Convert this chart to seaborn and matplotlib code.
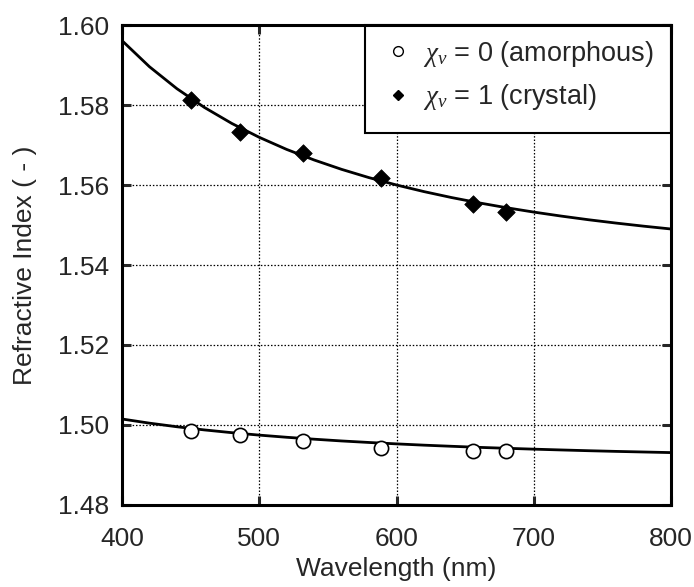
import matplotlib
matplotlib.use("Agg")
import matplotlib.pyplot as plt
from matplotlib.lines import Line2D
from matplotlib.patches import Rectangle
import seaborn as sns
import pandas as pd

# Measured refractive index at discrete wavelengths (nm)
wl_points = [450, 486, 532, 589, 656, 680]
n_amorphous = [1.4986, 1.4976, 1.4959, 1.4943, 1.4936, 1.4936]
n_crystal = [1.5813, 1.5732, 1.5679, 1.5617, 1.5553, 1.5533]

# Dispersion fit curves sampled across the range
wl_curve = [400, 420, 440, 460, 480, 500, 520, 540, 560, 580, 600,
            620, 640, 660, 680, 700, 720, 740, 760, 780, 800]
fit_amorphous = [1.5015, 1.50046, 1.49956, 1.49877, 1.49808, 1.49747, 1.49693,
                 1.49645, 1.49601, 1.49563, 1.49528, 1.49496, 1.49468, 1.49441,
                 1.49418, 1.49396, 1.49376, 1.49357, 1.49340, 1.49325, 1.49310]
fit_crystal = [1.59610, 1.58957, 1.58408, 1.57940, 1.57539, 1.57192, 1.56889,
               1.56625, 1.56391, 1.56184, 1.56000, 1.55835, 1.55687, 1.55554,
               1.55433, 1.55323, 1.55223, 1.55131, 1.55048, 1.54971, 1.54900]

x_ticks = [400, 500, 600, 700, 800]
y_ticks = [1.48, 1.50, 1.52, 1.54, 1.56, 1.58, 1.60]
labels = [r"$\chi_v$ = 0 (amorphous)", r"$\chi_v$ = 1 (crystal)"]

sns.set_style("white")
plt.rcParams["font.family"] = ["Liberation Sans", "DejaVu Sans"]
plt.rcParams["mathtext.fontset"] = "custom"
plt.rcParams["mathtext.it"] = "Liberation Serif:italic"
plt.rcParams["mathtext.rm"] = "Liberation Sans"

fs = 19
fig = plt.figure(figsize=(6.94, 5.87), dpi=100)
ax = fig.add_axes([0.1758, 0.1397, 0.7911, 0.8177])

curves = pd.DataFrame({"wl": wl_curve + wl_curve,
                       "n": fit_amorphous + fit_crystal,
                       "phase": ["a"] * len(wl_curve) + ["c"] * len(wl_curve)})
sns.lineplot(data=curves, x="wl", y="n", units="phase", estimator=None,
             color="black", linewidth=2, ax=ax, zorder=3, legend=False)

sns.scatterplot(x=wl_points, y=n_amorphous, marker="o", s=105,
                facecolor="white", edgecolor="black", linewidth=1.2,
                ax=ax, zorder=4, legend=False)
sns.scatterplot(x=wl_points, y=n_crystal, marker="D", s=80,
                color="black", edgecolor="black", linewidth=0.5,
                ax=ax, zorder=4, legend=False)

ax.set_xlim(400, 800)
ax.set_ylim(1.48, 1.60)
ax.set_xticks(x_ticks)
ax.set_yticks(y_ticks)
ax.set_xticklabels([str(v) for v in x_ticks])
ax.set_yticklabels([f"{v:.2f}" for v in y_ticks])
ax.grid(True, color="black", linestyle=(0, (1.2, 1.5)), linewidth=0.9)
ax.tick_params(direction="in", length=6.5, width=2.2, labelsize=fs,
               top=True, right=True, bottom=True, left=True)
ax.tick_params(axis="x", pad=16)
ax.tick_params(axis="y", pad=9)
for sp in ax.spines.values():
    sp.set_visible(True)
    sp.set_color("black")
    sp.set_linewidth(2.2)
    sp.set_zorder(7)

ax.set_xlabel("Wavelength (nm)", fontsize=fs, labelpad=4)
ax.set_ylabel("Refractive Index ( - )", fontsize=fs, labelpad=15)

# Legend box in the upper-right corner, touching the top and right spines
box_x0, box_y0 = 0.4426, 0.775
ax.add_patch(Rectangle((box_x0, box_y0), 1 - box_x0, 1 - box_y0,
                       transform=ax.transAxes, facecolor="white",
                       edgecolor="black", linewidth=1.5, zorder=5,
                       clip_on=False))

handles = [
    Line2D([], [], linestyle="none", marker="o", markersize=7,
           markerfacecolor="white", markeredgecolor="black", markeredgewidth=1),
    Line2D([], [], linestyle="none", marker="D", markersize=5.5,
           markerfacecolor="black", markeredgecolor="black"),
]
leg = ax.legend(handles, labels, loc="upper left",
                bbox_to_anchor=(box_x0, 1.0), fontsize=19.5, frameon=False,
                borderaxespad=0, handletextpad=0.25, borderpad=0.5,
                labelspacing=0.5, handlelength=1.4)
leg.set_zorder(6)

fig.savefig("out.png", dpi=100)
